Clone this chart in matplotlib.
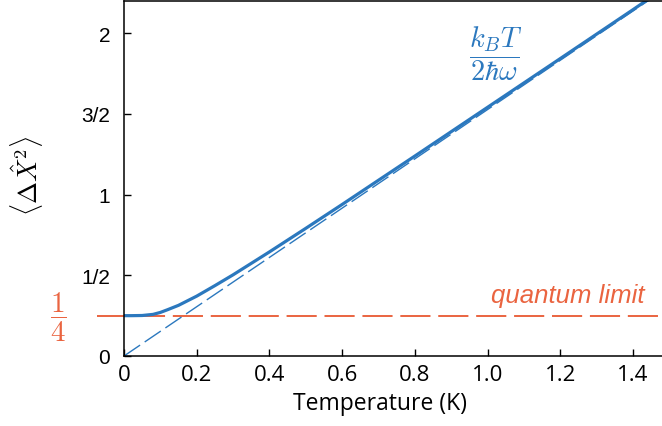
import numpy as np
import matplotlib.pyplot as plt

plt.rcParams['mathtext.fontset'] = 'cm'

# readings
temp = [0.0, 0.02, 0.05, 0.08, 0.1, 0.12, 0.15, 0.2, 0.25, 0.3, 0.4, 0.5, 0.6, 0.7, 0.8, 1.0, 1.2, 1.4, 1.48]
var_x = [0.25, 0.25, 0.251, 0.258, 0.270, 0.287, 0.314, 0.371, 0.436, 0.503, 0.645, 0.791, 0.939, 1.089, 1.239, 1.541, 1.843, 2.146, 2.269]
asym_t = [0.0, 1.48]
asym_y = [0.0, 2.26]
limit_t = [-0.075, 1.48]
limit_y = [0.25, 0.25]

yticks = [0, 0.5, 1, 1.5, 2]
ytick_labels = ['0', '1/2', '1', '3/2', '2']
xticks = [0, 0.2, 0.4, 0.6, 0.8, 1.0, 1.2, 1.4]
xtick_labels = ['0', '0.2', '0.4', '0.6', '0.8', '1.0', '1.2', '1.4']

blue = '#2b78be'
red = '#ea6440'

fig = plt.figure(figsize=(6.62, 4.27), dpi=100)
ax = fig.add_axes([124 / 662, 70 / 427, 1 - 124 / 662, 355 / 427])

ax.plot(limit_t, limit_y, color=red, lw=1.4, dashes=(15.5, 4), clip_on=False)
ax.plot(asym_t, asym_y, color=blue, lw=1.0, dashes=(14, 4))
ax.plot(temp, var_x, color=blue, lw=2.3)

ax.set_xlim(0, 1.48)
ax.set_ylim(0, 2.2)
ax.set_xticks(xticks)
ax.set_xticklabels(xtick_labels, family='Open Sans', fontsize=16)
ax.set_yticks(yticks)
ax.set_yticklabels(ytick_labels, family='Liberation Sans', fontsize=15)
ax.tick_params(direction='in', length=5, width=1)
ax.tick_params(axis='y', pad=10)
ax.tick_params(axis='x', pad=6)
ax.spines['right'].set_visible(False)
for s in ['left', 'bottom', 'top']:
    ax.spines[s].set_linewidth(1.1)

ax.set_xlabel('Temperature (K)', family='Open Sans', fontsize=16.5)
ax.xaxis.set_label_coords((380 - 124) / 538, -35 / 355)
fig.text(27 / 662, 1 - 176 / 427, r'$\langle\Delta\hat{X}^2\rangle$', rotation=90,
         fontsize=19, ha='center', va='center')
fig.text(58 / 662, 1 - 317 / 427, r'$\dfrac{1}{4}$', color=red, fontsize=21,
         ha='center', va='center')
fig.text(496 / 662, 1 - 54 / 427, r'$\dfrac{k_BT}{2\hbar\omega}$', color=blue, fontsize=20.5,
         ha='center', va='center')
ax.text(1.433, 0.378, 'quantum limit', color=red, fontsize=18.5, style='italic',
        family='Liberation Sans', ha='right', va='center')

fig.savefig('out.png', dpi=100)
